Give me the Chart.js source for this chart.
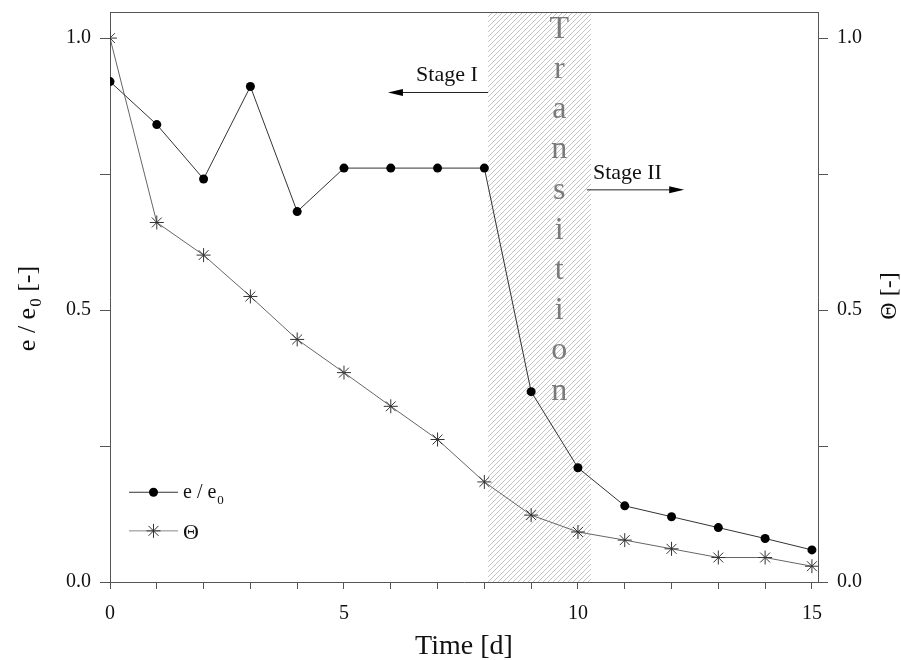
<!DOCTYPE html>
<html>
<head>
    <title>Ratio e/e0 and Theta over time</title>
    <style>
        body { margin: 0; background: #fff; }
        #wrap { width: 901px; height: 660px; position: relative; }
    </style>
</head>
<body>
    <div id="wrap"><canvas id="chart"></canvas></div>
    <script src="https://cdn.jsdelivr.net/npm/chart.js"></script>
    <script>
        // measured series
        const days = [0, 1, 2, 3, 4, 5, 6, 7, 8, 9, 10, 11, 12, 13, 14, 15];
        const ratioE = [0.920, 0.841, 0.741, 0.911, 0.681, 0.761, 0.761, 0.761, 0.761, 0.350, 0.210, 0.140, 0.120, 0.100, 0.080, 0.059];
        const theta = [1.000, 0.661, 0.601, 0.525, 0.446, 0.385, 0.323, 0.262, 0.184, 0.123, 0.092, 0.077, 0.061, 0.045, 0.045, 0.029];

        // axis ranges and labelled ticks
        const xLabelled = [0, 5, 10, 15];
        const yLabelled = [0, 0.5, 1.0];
        const xRange = [0, 15.13];
        const yRange = [0, 1.048];

        // transition zone between the two stages (days)
        const transitionZone = [8.08, 10.28];
        const transitionWord = 'Transition';

        const FONT = "'Liberation Serif', 'Times New Roman', serif";
        const AXIS = '#555';

        function hatchPattern(ctx) {
            const c = document.createElement('canvas');
            c.width = 5; c.height = 5;
            const p = c.getContext('2d');
            p.fillStyle = '#fff';
            p.fillRect(0, 0, 5, 5);
            p.strokeStyle = '#c4c4c4';
            p.lineWidth = 1;
            p.beginPath();
            p.moveTo(-1, 6); p.lineTo(6, -1);
            p.moveTo(-1, 1); p.lineTo(1, -1);
            p.moveTo(4, 6); p.lineTo(6, 4);
            p.stroke();
            return ctx.createPattern(c, 'repeat');
        }

        function arrow(ctx, x1, x2, y) {
            const dir = Math.sign(x2 - x1);
            ctx.strokeStyle = '#222';
            ctx.fillStyle = '#000';
            ctx.lineWidth = 1;
            ctx.beginPath();
            ctx.moveTo(x1, y); ctx.lineTo(x2 - dir * 12, y);
            ctx.stroke();
            ctx.beginPath();
            ctx.moveTo(x2, y);
            ctx.lineTo(x2 - dir * 15, y - 3.5);
            ctx.lineTo(x2 - dir * 15, y + 3.5);
            ctx.closePath();
            ctx.fill();
        }

        const decorations = {
            id: 'decorations',
            beforeDatasetsDraw(chart) {
                const { ctx, chartArea: a, scales: { x } } = chart;
                const x0 = x.getPixelForValue(transitionZone[0]);
                const x1 = x.getPixelForValue(transitionZone[1]);
                ctx.save();
                ctx.fillStyle = hatchPattern(ctx);
                ctx.fillRect(x0, a.top + 1, x1 - x0, a.bottom - a.top - 1);
                ctx.restore();
            },
            afterDatasetsDraw(chart) {
                const { ctx, chartArea: a, scales: { x, y } } = chart;
                ctx.save();

                // frame top edge
                ctx.strokeStyle = AXIS;
                ctx.lineWidth = 1;
                ctx.beginPath();
                ctx.moveTo(a.left, a.top + 0.5);
                ctx.lineTo(a.right, a.top + 0.5);
                ctx.stroke();

                // vertical "Transition" lettering
                ctx.fillStyle = '#7a7a7a';
                ctx.font = '32px ' + FONT;
                ctx.textAlign = 'center';
                ctx.textBaseline = 'middle';
                const tx = x.getPixelForValue(9.6);
                [...transitionWord].forEach((ch, i) => {
                    ctx.fillText(ch, tx, y.getPixelForValue(1.016) + i * 40.2);
                });

                // stage arrows
                ctx.fillStyle = '#111';
                ctx.font = '22px ' + FONT;
                ctx.textBaseline = 'middle';
                ctx.textAlign = 'right';
                ctx.fillText('Stage I', x.getPixelForValue(7.86), y.getPixelForValue(0.931));
                arrow(ctx, x.getPixelForValue(8.08), x.getPixelForValue(5.94), y.getPixelForValue(0.900));
                ctx.fillStyle = '#111';
                ctx.textAlign = 'left';
                ctx.fillText('Stage II', x.getPixelForValue(10.32), y.getPixelForValue(0.752));
                arrow(ctx, x.getPixelForValue(10.19), x.getPixelForValue(12.27), y.getPixelForValue(0.721));

                // legend
                const lx = a.left + 19, ly1 = y.getPixelForValue(0.165), ly2 = y.getPixelForValue(0.094);
                ctx.lineWidth = 1;
                ctx.strokeStyle = '#333';
                ctx.beginPath(); ctx.moveTo(lx, ly1); ctx.lineTo(lx + 49, ly1); ctx.stroke();
                ctx.fillStyle = '#000';
                ctx.beginPath(); ctx.arc(lx + 24.5, ly1, 4.5, 0, Math.PI * 2); ctx.fill();
                ctx.strokeStyle = '#888';
                ctx.beginPath(); ctx.moveTo(lx, ly2); ctx.lineTo(lx + 49, ly2); ctx.stroke();
                ctx.strokeStyle = '#333';
                ctx.beginPath();
                const cx = lx + 24.5, r = 7;
                for (let k = 0; k < 4; k++) {
                    const ang = k * Math.PI / 4;
                    ctx.moveTo(cx - r * Math.cos(ang), ly2 - r * Math.sin(ang));
                    ctx.lineTo(cx + r * Math.cos(ang), ly2 + r * Math.sin(ang));
                }
                ctx.stroke();
                ctx.fillStyle = '#111';
                ctx.textAlign = 'left';
                ctx.textBaseline = 'alphabetic';
                ctx.font = '20px ' + FONT;
                ctx.fillText('e / e', lx + 54, ly1 + 6);
                const w = ctx.measureText('e / e').width;
                ctx.font = '13px ' + FONT;
                ctx.fillText('0', lx + 54 + w + 1, ly1 + 12);
                ctx.font = '22px ' + FONT;
                ctx.fillText('\u0398', lx + 54, ly2 + 8);

                // axis titles
                ctx.fillStyle = '#111';
                ctx.font = '28px ' + FONT;
                ctx.textAlign = 'center';
                ctx.fillText('Time [d]', (a.left + a.right) / 2, 654);

                // left title with subscript
                ctx.save();
                ctx.translate(35, 309);
                ctx.rotate(-Math.PI / 2);
                const p1 = 'e / e', p2 = ' [-]';
                ctx.font = '26px ' + FONT;
                const w1 = ctx.measureText(p1).width, w3 = ctx.measureText(p2).width;
                ctx.font = '17px ' + FONT;
                const w2 = ctx.measureText('0').width;
                const sx = -(w1 + w2 + w3) / 2;
                ctx.textAlign = 'left';
                ctx.font = '26px ' + FONT;
                ctx.fillText(p1, sx, 0);
                ctx.font = '17px ' + FONT;
                ctx.fillText('0', sx + w1 + 1, 6);
                ctx.font = '26px ' + FONT;
                ctx.fillText(p2, sx + w1 + w2 + 1, 0);
                ctx.restore();

                // right title
                ctx.save();
                ctx.translate(896, 296);
                ctx.rotate(-Math.PI / 2);
                ctx.font = '24px ' + FONT;
                ctx.textAlign = 'center';
                ctx.fillText('\u0398 [-]', 0, 0);
                ctx.restore();

                ctx.restore();
            }
        };

        function yScale(position, width) {
            return {
                type: 'linear',
                position: position,
                min: yRange[0],
                max: yRange[1],
                afterFit: s => { s.width = width; s.paddingTop = 0; s.paddingBottom = 0; },
                border: { color: AXIS, width: 1 },
                grid: { drawOnChartArea: false, tickLength: 10, color: AXIS },
                ticks: {
                    stepSize: 0.25,
                    includeBounds: false,
                    padding: 9,
                    color: '#111',
                    font: { family: FONT, size: 20 },
                    callback: v => yLabelled.some(t => Math.abs(t - v) < 1e-6) ? v.toFixed(1) : ''
                }
            };
        }

        const ctx = document.getElementById('chart').getContext('2d');
        new Chart(ctx, {
            type: 'line',
            data: {
                datasets: [{
                    label: 'e / e0',
                    data: days.map((d, i) => ({ x: d, y: ratioE[i] })),
                    borderColor: '#333',
                    borderWidth: 1,
                    pointStyle: 'circle',
                    pointRadius: 4.5,
                    pointBackgroundColor: '#000',
                    pointBorderColor: '#000',
                    pointBorderWidth: 0,
                    yAxisID: 'y',
                    tension: 0
                }, {
                    label: '\u0398',
                    data: days.map((d, i) => ({ x: d, y: theta[i] })),
                    borderColor: '#666',
                    borderWidth: 1,
                    pointStyle: 'star',
                    pointRadius: 7,
                    pointBackgroundColor: 'transparent',
                    pointBorderColor: '#333',
                    pointBorderWidth: 1,
                    yAxisID: 'y2',
                    tension: 0
                }]
            },
            options: {
                responsive: true,
                maintainAspectRatio: false,
                animation: false,
                layout: { padding: { top: 12, left: 0, right: 0, bottom: 0 } },
                plugins: { legend: { display: false }, tooltip: { enabled: false } },
                scales: {
                    x: {
                        type: 'linear',
                        position: 'bottom',
                        min: xRange[0],
                        max: xRange[1],
                        afterFit: s => { s.height = 78; s.paddingLeft = 0; s.paddingRight = 0; },
                        border: { color: AXIS, width: 1 },
                        grid: { drawOnChartArea: false, tickLength: 7, color: AXIS },
                        ticks: {
                            stepSize: 1,
                            includeBounds: false,
                            maxRotation: 0,
                            autoSkip: false,
                            padding: 13,
                            color: '#111',
                            font: { family: FONT, size: 20 },
                            callback: v => xLabelled.includes(v) ? String(v) : ''
                        }
                    },
                    y: yScale('left', 110),
                    y2: yScale('right', 83)
                }
            },
            plugins: [decorations]
        });
    </script>
</body>
</html>
